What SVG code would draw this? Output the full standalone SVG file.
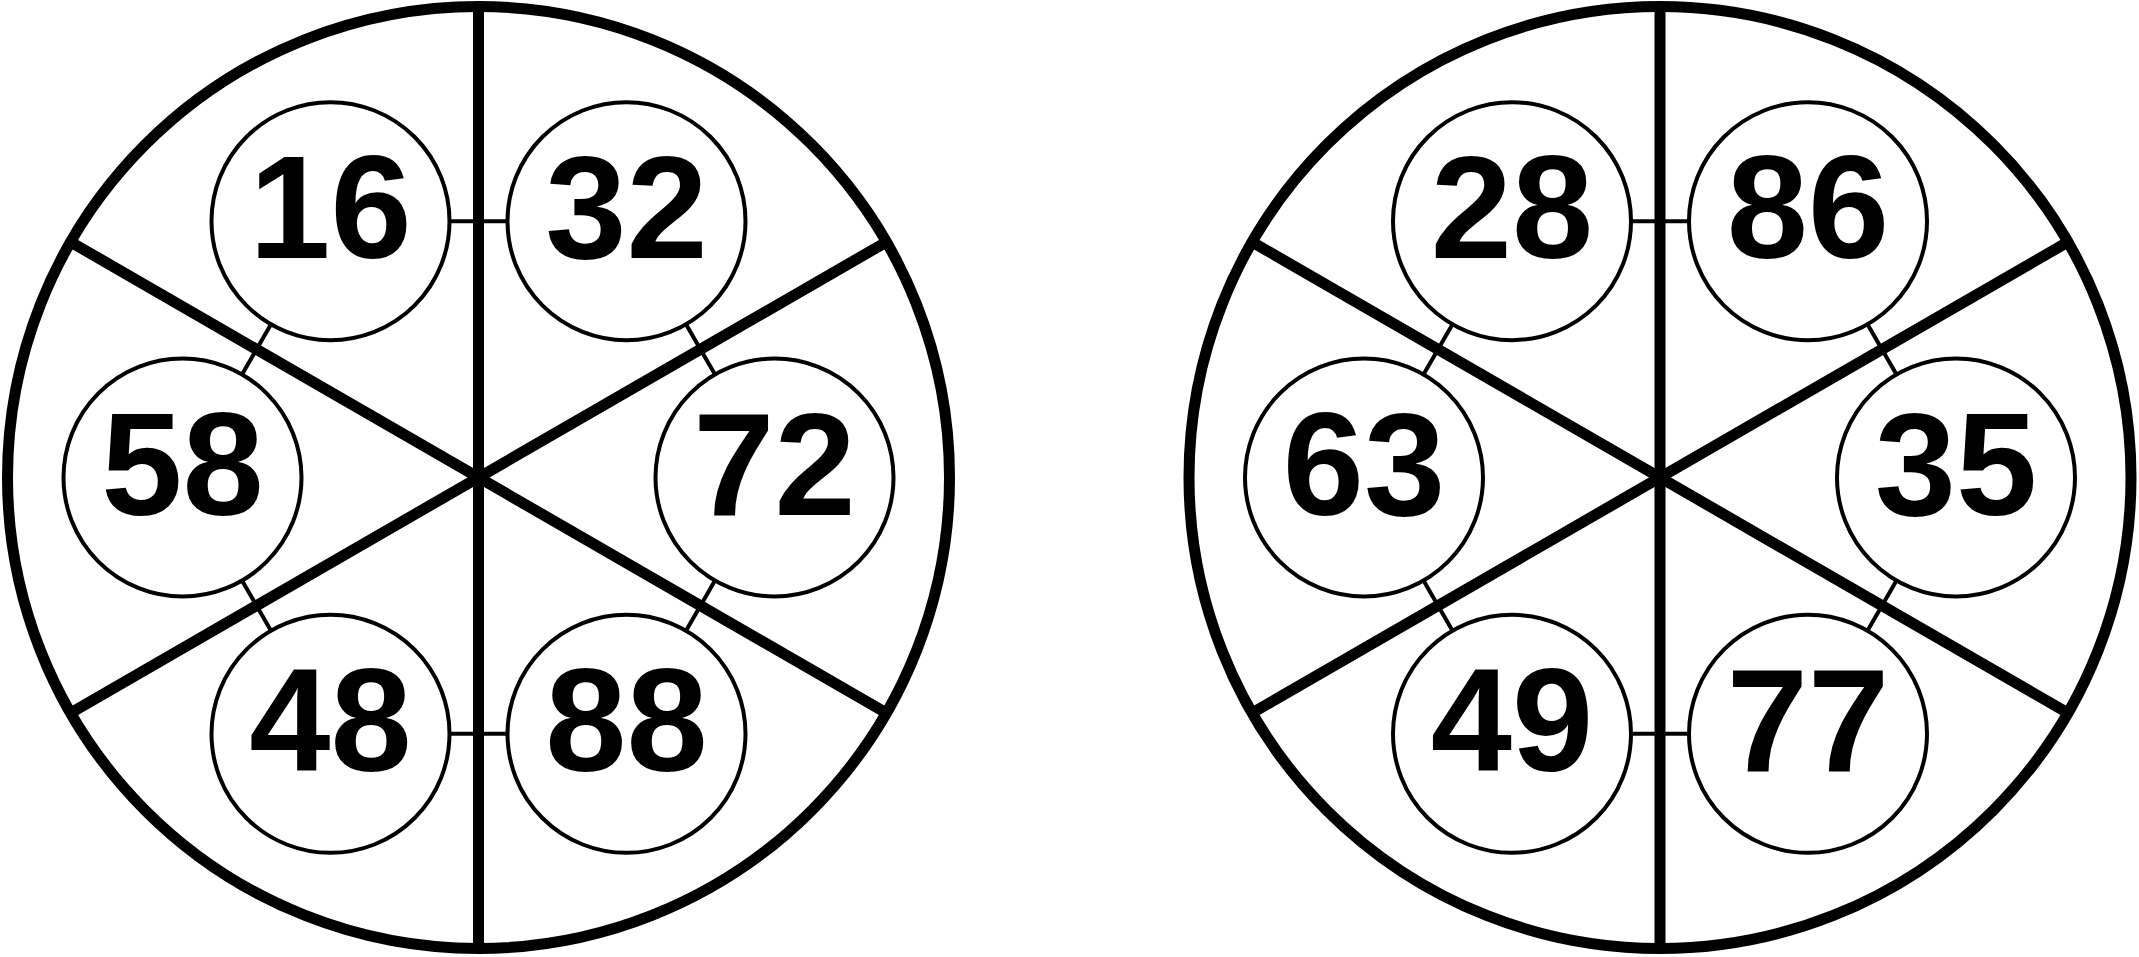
<svg xmlns="http://www.w3.org/2000/svg" width="2139" height="957" viewBox="0 0 2139 957">
<style>
.big{fill:none;stroke:#000;stroke-width:11}
.spoke{stroke:#000;stroke-width:11;fill:none}
.node circle{fill:#fff;stroke:#000;stroke-width:4}
.node text{font-family:"Liberation Sans",Arial,sans-serif;font-weight:bold;font-size:146px;text-anchor:middle;fill:#000}
.conn line{stroke:#000;stroke-width:4}
</style>
<rect width="2139" height="957" fill="#fff"/>
<g id="wheel-left">
<circle class="big" cx="478.5" cy="477.5" r="471"/>
<line class="spoke" x1="478.5" y1="6.5" x2="478.5" y2="948.5"/>
<line class="spoke" x1="70.6" y1="242" x2="886.4" y2="713"/>
<line class="spoke" x1="70.6" y1="713" x2="886.4" y2="242"/>
</g>
<g id="wheel-right">
<circle class="big" cx="1660" cy="477.5" r="471"/>
<line class="spoke" x1="1660" y1="6.5" x2="1660" y2="948.5"/>
<line class="spoke" x1="1252.1" y1="242" x2="2067.9" y2="713"/>
<line class="spoke" x1="1252.1" y1="713" x2="2067.9" y2="242"/>
</g>
<g id="connectors" class="conn">
<line x1="449.5" y1="221.16" x2="507.5" y2="221.16"/>
<line x1="242" y1="374.44" x2="271" y2="324.22"/>
<line x1="242" y1="580.56" x2="271" y2="630.78"/>
<line x1="686" y1="324.22" x2="715" y2="374.44"/>
<line x1="715" y1="580.56" x2="686" y2="630.78"/>
<line x1="449.5" y1="733.84" x2="507.5" y2="733.84"/>
<line x1="1631" y1="221.16" x2="1689" y2="221.16"/>
<line x1="1423.5" y1="374.44" x2="1452.5" y2="324.22"/>
<line x1="1423.5" y1="580.56" x2="1452.5" y2="630.78"/>
<line x1="1867.5" y1="324.22" x2="1896.5" y2="374.44"/>
<line x1="1896.5" y1="580.56" x2="1867.5" y2="630.78"/>
<line x1="1631" y1="733.84" x2="1689" y2="733.84"/>
</g>
<g id="n16" class="node"><circle cx="330.5" cy="221.16" r="119"/><text x="330.5" y="258.16">16</text></g>
<g id="n32" class="node"><circle cx="626.5" cy="221.16" r="119"/><text x="626.5" y="258.16">32</text></g>
<g id="n58" class="node"><circle cx="182.5" cy="477.5" r="119"/><text x="182.5" y="514.5">58</text></g>
<g id="n72" class="node"><circle cx="774.5" cy="477.5" r="119"/><text x="774.5" y="514.5">72</text></g>
<g id="n48" class="node"><circle cx="330.5" cy="733.84" r="119"/><text x="330.5" y="770.84">48</text></g>
<g id="n88" class="node"><circle cx="626.5" cy="733.84" r="119"/><text x="626.5" y="770.84">88</text></g>
<g id="n28" class="node"><circle cx="1512" cy="221.16" r="119"/><text x="1512" y="258.16">28</text></g>
<g id="n86" class="node"><circle cx="1808" cy="221.16" r="119"/><text x="1808" y="258.16">86</text></g>
<g id="n63" class="node"><circle cx="1364" cy="477.5" r="119"/><text x="1364" y="514.5">63</text></g>
<g id="n35" class="node"><circle cx="1956" cy="477.5" r="119"/><text x="1956" y="514.5">35</text></g>
<g id="n49" class="node"><circle cx="1512" cy="733.84" r="119"/><text x="1512" y="770.84">49</text></g>
<g id="n77" class="node"><circle cx="1808" cy="733.84" r="119"/><text x="1808" y="770.84">77</text></g>
</svg>
